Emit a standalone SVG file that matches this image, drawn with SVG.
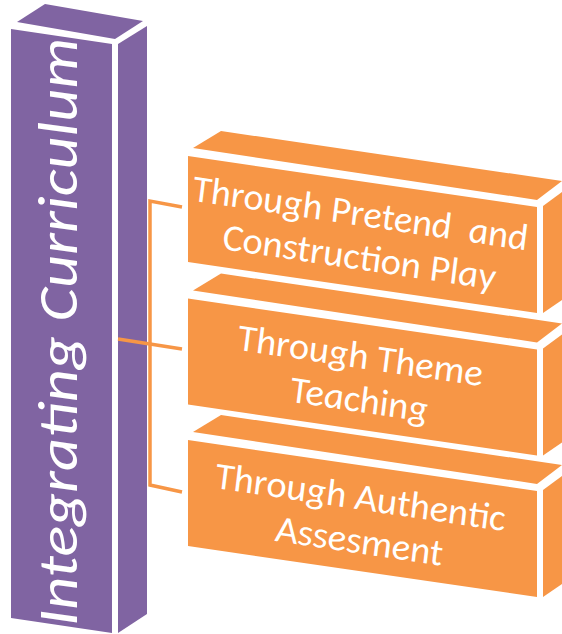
<svg xmlns="http://www.w3.org/2000/svg" width="562" height="634" viewBox="0 0 562 634">
<style>
.pu{fill:#8064A2}
.or{fill:#F79646}
.lbl{font-family:Carlito,Lato,"Open Sans",sans-serif;font-style:italic;font-weight:300;fill:#FFFFFF;text-anchor:middle;font-size:38px}
.big{font-family:Carlito,Lato,"Open Sans",sans-serif;font-style:italic;font-weight:300;fill:#FFFFFF;font-size:56px}
.con{fill:none;stroke:#F79646;stroke-width:3.5}
</style>
<rect width="562" height="634" fill="#FFFFFF"/>
<g id="pillar">
<polygon class="pu" points="17,22 45,4 143,21 115,39"/>
<polygon class="pu" points="11,29 112,44 112,633 11,618"/>
<polygon class="pu" points="118,44 147,26 147,614 118,633"/>
<text class="big" transform="translate(77,626) rotate(-90)" x="0" y="0" textLength="588" lengthAdjust="spacingAndGlyphs">Integrating Curriculum</text>
</g>
<g id="connectors">
<polyline class="con" points="182,207 150,201 150,485 182,492"/>
<line class="con" x1="118" y1="339" x2="182" y2="349"/>
</g>
<g id="box1">
<polygon class="or" points="193,148 221,131 562,181 537,200"/>
<polygon class="or" points="188,156 537,207 537,313 188,262"/>
<polygon class="or" points="543,206 562,192 562,300 543,313"/>
<g transform="matrix(1,0.149,0,1,0,-28)">
<text class="lbl" x="360" y="200" textLength="335" lengthAdjust="spacingAndGlyphs" xml:space="preserve">Through Pretend  and</text>
<text class="lbl" x="359" y="244" textLength="273" lengthAdjust="spacingAndGlyphs">Construction Play</text>
</g>
</g>
<g id="box2" transform="translate(0,142.5)">
<polygon class="or" points="193,148 221,131 562,181 537,200"/>
<polygon class="or" points="188,156 537,207 537,313 188,262"/>
<polygon class="or" points="543,206 562,192 562,300 543,313"/>
<g transform="matrix(1,0.149,0,1,0,-28)">
<text class="lbl" x="360" y="200" textLength="245" lengthAdjust="spacingAndGlyphs">Through Theme</text>
<text class="lbl" x="359" y="244" textLength="138" lengthAdjust="spacingAndGlyphs">Teaching</text>
</g>
</g>
<g id="box3" transform="translate(0,284)">
<polygon class="or" points="193,148 221,131 562,181 537,200"/>
<polygon class="or" points="188,156 537,207 537,313 188,262"/>
<polygon class="or" points="543,206 562,192 562,300 543,313"/>
<g transform="matrix(1,0.149,0,1,0,-28)">
<text class="lbl" x="360" y="200" textLength="290" lengthAdjust="spacingAndGlyphs">Through Authentic</text>
<text class="lbl" x="359" y="244" textLength="167" lengthAdjust="spacingAndGlyphs">Assesment</text>
</g>
</g>
</svg>
